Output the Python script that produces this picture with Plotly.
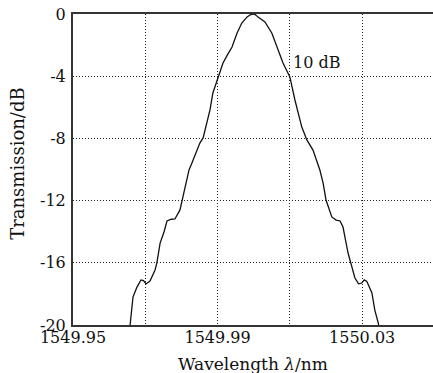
import plotly.graph_objects as go

wavelength = [1549.9658, 1549.9666, 1549.9677, 1549.9688, 1549.9695, 1549.9702, 1549.9713,
              1549.9727, 1549.9732, 1549.9741, 1549.9752, 1549.9760, 1549.9772, 1549.9782,
              1549.9796, 1549.9802, 1549.9810, 1549.9821, 1549.9829, 1549.9840, 1549.9851,
              1549.9860, 1549.9870, 1549.9879, 1549.9887, 1549.9901, 1549.9915, 1549.9928,
              1549.9940, 1549.9954, 1549.9967, 1549.9981, 1549.9990, 1549.9998, 1550.0005,
              1550.0012, 1550.0031, 1550.0050, 1550.0064, 1550.0081, 1550.0100, 1550.0114,
              1550.0133, 1550.0147, 1550.0164, 1550.0183, 1550.0192, 1550.0200, 1550.0216,
              1550.0228, 1550.0239, 1550.0247, 1550.0261, 1550.0275, 1550.0280, 1550.0290,
              1550.0299, 1550.0306, 1550.0313, 1550.0327, 1550.0335, 1550.0346]
transmission = [-20.0, -18.2, -17.56, -17.1, -17.15, -17.36, -17.17,
                -16.46, -16.0, -14.73, -14.0, -13.31, -13.2, -13.18,
                -12.6, -11.96, -11.13, -10.03, -9.58, -8.9, -8.30,
                -7.97, -7.0, -6.17, -5.08, -4.05, -3.15, -2.6,
                -2.12, -1.22, -0.58, -0.2, -0.05, 0.0, -0.05,
                -0.2, -0.51, -1.22, -2.12, -3.15, -4.05, -5.53,
                -7.27, -8.10, -8.75, -10.03, -10.87, -11.96, -13.05,
                -13.25, -13.31, -13.70, -15.37, -16.46, -16.98, -17.35,
                -17.30, -17.1, -17.2, -17.94, -19.04, -20.0]

x_tickvals = [1549.95, 1549.97, 1549.99, 1550.01, 1550.03]
x_ticktext = ["1549.95", "", "1549.99", "", "1550.03"]
y_tickvals = [0, -4, -8, -12, -16, -20]
y_ticktext = ["0", "-4", "-8", "-12", "-16", "-20"]

font_family = "DejaVu Serif"

fig = go.Figure()
fig.add_trace(go.Scatter(x=wavelength, y=transmission, mode="lines",
                         line=dict(color="#111111", width=1.3), showlegend=False))

fig.add_annotation(x=1550.0103, y=-3.09, text="10 dB", showarrow=False,
                   xanchor="left", yanchor="middle",
                   font=dict(family=font_family, size=16, color="#111111"))

fig.add_annotation(x=0.5, y=-0.088, xref="paper", yref="paper",
                   text="Wavelength <i>λ</i>/nm", showarrow=False,
                   xanchor="center", yanchor="top",
                   font=dict(family=font_family, size=17, color="#111111"))
fig.add_annotation(x=-0.153, y=0.518, xref="paper", yref="paper",
                   text="Transmission/dB", showarrow=False, textangle=-90,
                   xanchor="center", yanchor="middle",
                   font=dict(family=font_family, size=18, color="#111111"))

fig.update_layout(
    width=433, height=373,
    margin=dict(l=73, r=0, t=14, b=48),
    paper_bgcolor="white", plot_bgcolor="white",
    font=dict(family=font_family, size=16, color="#111111"),
    xaxis=dict(range=[1549.95, 1550.0496], tickvals=x_tickvals, ticktext=x_ticktext,
               showgrid=True, gridcolor="#222222", griddash="1px,2px", gridwidth=1,
               showline=True, linecolor="#333333", linewidth=2, mirror=True,
               ticks="", zeroline=False, automargin=False, ticklabelstandoff=-3),
    yaxis=dict(range=[-20, 0], tickvals=y_tickvals, ticktext=y_ticktext,
               showgrid=True, gridcolor="#222222", griddash="1px,2px", gridwidth=1,
               showline=True, linecolor="#333333", linewidth=2, mirror=False,
               ticks="", zeroline=False, automargin=False, ticklabelstandoff=2),
)

fig.write_html("out.html", config={"displayModeBar": False},
               post_script="document.body.style.margin='0';document.body.style.padding='0';")
